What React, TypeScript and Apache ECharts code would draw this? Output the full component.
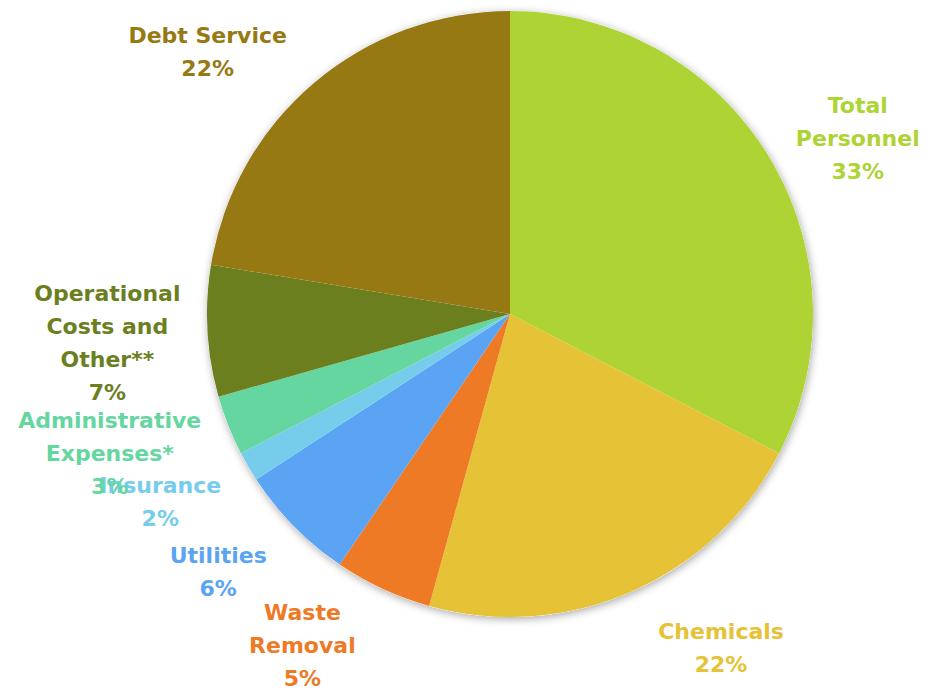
import React, { useEffect, useRef } from 'react';
import * as echarts from 'echarts';

const categories = [
  'Total\nPersonnel',
  'Chemicals',
  'Waste\nRemoval',
  'Utilities',
  'Insurance',
  'Administrative\nExpenses*',
  'Operational\nCosts and\nOther**',
  'Debt Service',
];
const values = [32.6, 21.7, 5.2, 6.3, 1.6, 3.2, 7.0, 22.4];
const colors = ['#ADD335', '#E5C236', '#EE7A26', '#5BA4F4', '#76CDEB', '#65D69F', '#6B7F1F', '#967913'];

const W = 935;
const H = 690;
const CX = 510;
const CY = 314;
const R = 303;

export default function App() {
  const ref = useRef<HTMLDivElement>(null);
  useEffect(() => {
    document.body.style.margin = '0';
    if (!ref.current) return;
    const chart = echarts.init(ref.current, null, { renderer: 'svg' });
    const total = values.reduce((a, b) => a + b, 0);
    const option: any = {
      animation: false,
      backgroundColor: '#ffffff',
      series: [
        {
          type: 'pie',
          silent: true,
          center: [CX, CY],
          radius: R,
          z: 1,
          label: { show: false },
          labelLine: { show: false },
          itemStyle: {
            color: '#ffffff',
            shadowBlur: 8,
            shadowOffsetX: 1,
            shadowOffsetY: 2,
            shadowColor: 'rgba(0,0,0,0.35)',
          },
          data: [{ value: 1, name: '' }],
        },
        {
          type: 'pie',
          center: [CX, CY],
          radius: R,
          startAngle: 90,
          clockwise: true,
          z: 2,
          avoidLabelOverlap: false,
          label: {
            show: true,
            position: 'outside',
            fontFamily: 'DejaVu Sans',
            fontWeight: 'bold',
            fontSize: 22,
            lineHeight: 33,
            align: 'center',
            formatter: (p: any) => `${p.name}\n${Math.round(p.percent)}%`,
          },
          labelLine: { show: false, length: 10, length2: 0 },
          labelLayout: (params: any) => {
            const i = params.dataIndex;
            const before = values.slice(0, i).reduce((a, b) => a + b, 0);
            const mid = ((before + values[i] / 2) / total) * Math.PI * 2;
            const s = Math.sin(mid);
            const c = Math.cos(mid);
            const px = CX + R * s;
            const py = CY - R * c;
            const w = params.labelRect.width;
            const x = px + Math.sign(s) * (w / 2 + 27);
            const y = py - c * 52 + 9;
            return { x, y, align: 'center', verticalAlign: 'middle' };
          },
          data: categories.map((name, i) => ({
            name,
            value: values[i],
            itemStyle: { color: colors[i] },
            label: { color: colors[i] },
          })),
        },
      ],
    };
    chart.setOption(option);
    return () => chart.dispose();
  }, []);
  return <div ref={ref} style={{ width: W, height: H }} />;
}
